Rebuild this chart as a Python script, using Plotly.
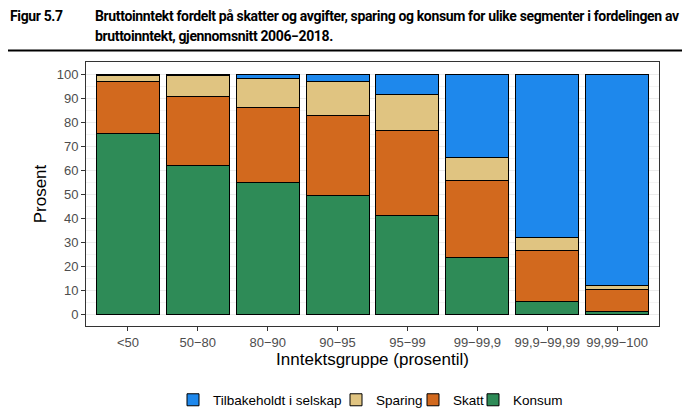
import plotly.graph_objects as go

# Inntektsgrupper og andeler (prosent av bruttoinntekt)
grupper = ["<50", "50\u221280", "80\u221290", "90\u221295", "95\u221299",
           "99\u221299,9", "99,9\u221299,99", "99,99\u2212100"]
konsum = [75.2, 61.9, 54.7, 49.4, 41.0, 23.5, 5.4, 1.1]
skatt = [21.7, 28.7, 31.5, 33.3, 35.5, 32.3, 21.0, 9.1]
sparing = [2.4, 8.6, 12.1, 14.2, 15.1, 9.5, 5.6, 1.8]
tilbakeholdt = [0.7, 0.8, 1.7, 3.1, 8.4, 34.7, 68.0, 88.0]

# navn, verdier, farge, legend-id, venstre kant av legendboks (px)
serier = [
    ("Konsum", konsum, "#2E8B57", "legend4", 465),
    ("Skatt", skatt, "#D2691E", "legend3", 405),
    ("Sparing", sparing, "#E0C481", "legend2", 328),
    ("Tilbakeholdt i selskap", tilbakeholdt, "#1E88EC", "legend", 165),
]

W, H = 682, 404          # page body has an 8px margin inside the 690x412 window
L, R, T, B = 78, 31, 54, 86
pw, ph = W - L - R, H - T - B


def px(x):
    return (x - L) / pw


def py(y):
    return (H - B - y) / ph


fig = go.Figure()
for navn, verdier, farge, leg, _ in serier:
    fig.add_trace(go.Bar(x=grupper, y=verdier, name=navn, legend=leg,
                         showlegend=True,
                         marker=dict(color=farge, line=dict(color="black", width=1)),
                         width=0.9))

axis_font = dict(family="Liberation Sans, Arial", size=13, color="#4D4D4D")
title_font = "Roboto"

legend_base = dict(orientation="h", xref="container", yref="container",
                   xanchor="left", yanchor="middle", y=1 - 392 / H,
                   font=dict(size=13.5), itemwidth=30, bgcolor="rgba(0,0,0,0)")
legends = {}
for navn, _, _, leg, x0 in serier:
    legends[leg] = dict(legend_base, x=x0 / W)

fig.update_layout(
    barmode="stack",
    width=W, height=H,
    showlegend=True,
    margin=dict(l=L, r=R, t=T, b=B),
    paper_bgcolor="white",
    plot_bgcolor="white",
    font=dict(family="Liberation Sans, Arial", color="black"),
    xaxis=dict(range=[-0.6, 7.6], showgrid=False, showline=True, mirror=True,
               linecolor="#333333", linewidth=1, ticks="outside", ticklen=4,
               tickcolor="#333333", tickfont=axis_font, automargin=False,
               title=dict(text="Inntektsgruppe (prosentil)", font=dict(size=17), standoff=2)),
    yaxis=dict(range=[-5, 105], tickvals=list(range(0, 101, 10)), showline=True,
               mirror=True, linecolor="#333333", linewidth=1, ticks="outside",
               ticklen=4, tickcolor="#333333", tickfont=axis_font,
               gridcolor="#EBEBEB", gridwidth=1, zeroline=False, automargin=False,
               minor=dict(tickvals=list(range(5, 101, 10)), showgrid=True,
                          gridcolor="#F3F3F3", gridwidth=0.6, ticks=""),
               title=dict(text="Prosent", font=dict(size=17), standoff=5)),
    bargap=0.1,
    **legends,
)

ls = "letter-spacing:-0.36px"
tfont = dict(family=title_font, size=14, color="black")
fig.add_annotation(text=f"<b><span style='{ls}'>Figur 5.7</span></b>",
                   xref="paper", yref="paper", x=px(0), y=py(8),
                   xanchor="left", yanchor="middle", showarrow=False, font=tfont)
fig.add_annotation(
    text=f"<b><span style='{ls}'>Bruttoinntekt fordelt på skatter og avgifter, sparing og konsum for ulike segmenter i fordelingen av</span></b>",
    xref="paper", yref="paper", x=px(85), y=py(8),
    xanchor="left", yanchor="middle", showarrow=False, font=tfont)
fig.add_annotation(
    text=f"<b><span style='{ls}'>bruttoinntekt, gjennomsnitt 2006\u22122018.</span></b>",
    xref="paper", yref="paper", x=px(85), y=py(28),
    xanchor="left", yanchor="middle", showarrow=False, font=tfont)
fig.add_shape(type="line", xref="paper", yref="paper",
              x0=px(0), x1=px(676), y0=py(42.5), y1=py(42.5),
              line=dict(color="black", width=2))

fig.write_html("out.html")
